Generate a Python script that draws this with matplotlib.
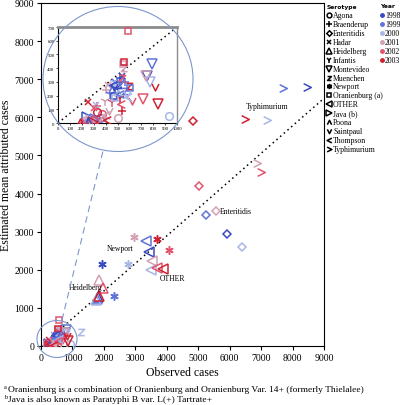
import matplotlib
matplotlib.use('Agg')
import matplotlib.pyplot as plt
from matplotlib.path import Path
from matplotlib.patches import Ellipse

plt.rcParams['font.family'] = ['Liberation Serif', 'DejaVu Serif']

# ---------------- data ----------------
years = ['1998', '1999', '2000', '2001', '2002', '2003']
year_colors = ['#3a4bbf', '#5f74d6', '#a9b6e6', '#d3a1b6', '#e0566f', '#cf2233']

serotypes = ['Agona', 'Braenderup', 'Enteritidis', 'Hadar', 'Heidelberg', 'Infantis',
             'Montevideo', 'Muenchen', 'Newport', 'Oranienburg (a)', 'OTHER', 'Java (b)',
             'Poona', 'Saintpaul', 'Thompson', 'Typhimurium']

# observed / estimated values, one per year 1998..2003
agona_obs = [300, 350, 936, 507, 367, 330]
agona_est = [15, 40, 49, 34, 66, 80]
braenderup_obs = [520, 560, 480, 400, 325, 535]
braenderup_est = [330, 300, 260, 240, 126, 90]
enteritidis_obs = [5924, 5255, 6401, 5573, 5032, 4841]
enteritidis_est = [2950, 3447, 2585, 3551, 4204, 5900]
hadar_obs = [540, 480, 320, 420, 300, 252]
hadar_est = [340, 300, 130, 280, 110, 150]
heidelberg_obs = [1815, 1790, 1750, 1847, 1974, 1830]
heidelberg_est = [1279, 1240, 1200, 1723, 1514, 1300]
infantis_obs = [500, 440, 470, 395, 451, 521]
infantis_est = [250, 210, 300, 163, 151, 182]
montevideo_obs = [751, 787, 773, 740, 712, 843]
montevideo_est = [345, 431, 301, 340, 175, 139]
muenchen_obs = [510, 560, 1274, 555, 540, 600]
muenchen_est = [280, 230, 366, 400, 330, 270]
newport_obs = [1943, 2325, 2771, 2962, 4076, 3694]
newport_est = [2141, 1305, 2141, 2872, 2507, 2820]
oranienburg_obs = [470, 605, 480, 545, 585, 555]
oranienburg_est = [200, 255, 180, 430, 673, 443]
other_obs = [3440, 3344, 3503, 3535, 3694, 3886]
other_est = [2454, 2768, 1984, 2220, 2036, 2010]
java_obs = [241, 311, 280, 260, 330, 290]
java_est = [42, 29, 20, 10, 15, 5]
poona_obs = [255, 450, 500, 380, 200, 185]
poona_est = [17, 250, 220, 40, 5, 5]
saintpaul_obs = [470, 520, 580, 430, 620, 815]
saintpaul_est = [260, 300, 210, 90, 160, 260]
thompson_obs = [460, 520, 588, 400, 530, 410]
thompson_est = [280, 210, 190, 60, 140, 20]
typhimurium_obs = [8471, 7707, 7197, 6879, 7006, 6497]
typhimurium_est = [6788, 6762, 5927, 4804, 4570, 5953]

obs_data = [agona_obs, braenderup_obs, enteritidis_obs, hadar_obs, heidelberg_obs,
            infantis_obs, montevideo_obs, muenchen_obs, newport_obs, oranienburg_obs,
            other_obs, java_obs, poona_obs, saintpaul_obs, thompson_obs, typhimurium_obs]
est_data = [agona_est, braenderup_est, enteritidis_est, hadar_est, heidelberg_est,
            infantis_est, montevideo_est, muenchen_est, newport_est, oranienburg_est,
            other_est, java_est, poona_est, saintpaul_est, thompson_est, typhimurium_est]

labels = [('Typhimurium', 7200, 6290, 'center'), ('Enteritidis', 5690, 3551, 'left'),
          ('Newport', 2516, 2560, 'center'), ('OTHER', 4172, 1775, 'center'),
          ('Heidelberg', 1400, 1561, 'center')]

main_ticks = list(range(0, 9001, 1000))
inset_xticks = list(range(0, 1001, 100))
inset_yticks = list(range(0, 701, 100))

# ---------------- markers ----------------
def open_path(v):
    return Path(v, [Path.MOVETO] + [Path.LINETO] * (len(v) - 1))

m_z = open_path([(-1, 1), (1, 1), (-1, -1), (1, -1)])
m_lam = open_path([(-1, -1), (0, 1), (1, -1)])
m_vee = open_path([(-1, 1), (0, -1), (1, 1)])
m_lt = open_path([(1, 1), (-1, 0), (1, -1)])
m_gt = open_path([(-1, 1), (1, 0), (-1, -1)])

markers = ['o', '+', 'D', 'x', '^', '1', 'v', m_z, (6, 2, 0), 's', '<', '>',
           m_lam, m_vee, m_lt, m_gt]
msizes = [5.5, 6, 4.5, 5, 6.5, 7, 6.5, 4.5, 6, 5, 6.5, 6.5, 5, 5, 5.5, 5.5]

# ---------------- figure ----------------
W, H = 400, 406
fig = plt.figure(figsize=(W / 100, H / 100), dpi=100)

ax = fig.add_axes([41 / W, 1 - 347 / H, (324 - 41) / W, (347 - 4) / H])
ax.set_xlim(0, 9000)
ax.set_ylim(0, 9000)
ax.set_xticks(main_ticks)
ax.set_yticks(main_ticks)
ax.tick_params(labelsize=7, length=3, width=0.8, pad=2)
for s in ax.spines.values():
    s.set_linewidth(0.8)
ax.set_xlabel('Observed cases', fontsize=8.5, labelpad=3)
ax.set_ylabel('Estimated mean attributed cases', fontsize=8.5, labelpad=2)
ax.plot([0, 9000], [0, 6500], ls=(0, (1, 2.2)), color='black', lw=1.1, zorder=1)

axi = fig.add_axes([58 / W, 1 - 124 / H, (177 - 58) / W, (124 - 28) / H])
axi.set_xlim(0, 1000)
axi.set_ylim(0, 700)
axi.set_xticks(inset_xticks)
axi.set_yticks(inset_yticks)
axi.tick_params(labelsize=3.5, length=1.5, width=0.5, pad=1)
axi.spines['top'].set_color('#8c8c8c')
axi.spines['top'].set_linewidth(2)
axi.spines['right'].set_color('#8c8c8c')
axi.spines['right'].set_linewidth(1)
axi.spines['left'].set_linewidth(0.8)
axi.spines['bottom'].set_linewidth(0.8)
axi.plot([0, 1000], [0, 700], ls=(0, (1, 2.2)), color='black', lw=1.1, zorder=1)

for k in range(len(serotypes)):
    for j in range(len(years)):
        x, y = obs_data[k][j], est_data[k][j]
        for a in (ax, axi):
            a.plot([x], [y], ls='none', marker=markers[k], ms=msizes[k],
                   mfc='none', mec=year_colors[j], mew=1.1, zorder=3)

for txt, x, y, ha in labels:
    ax.text(x, y, txt, fontsize=5.5, ha=ha, va='center')

# overlay in pixel coordinates
ov = fig.add_axes([0, 0, 1, 1], zorder=10)
ov.set_xlim(0, W)
ov.set_ylim(H, 0)
ov.axis('off')
circ_col = '#7d97cc'
ov.add_patch(Ellipse((118, 80), 150, 145, fill=False, ec=circ_col, lw=0.8))
ov.add_patch(Ellipse((57, 340), 40, 37, fill=False, ec=circ_col, lw=0.8))
ov.plot([62, 103], [321, 152], ls=(0, (6, 4)), color=circ_col, lw=0.8)

# legend
ov.text(327, 7, 'Serotype', fontsize=4.3, fontweight='bold', family='DejaVu Sans',
        ha='left', va='center')
ov.text(380, 7, 'Year', fontsize=4.3, fontweight='bold', family='DejaVu Sans',
        ha='left', va='center')
for k, name in enumerate(serotypes):
    yy = 16 + 8.93 * k
    ov.plot([328.5], [yy], ls='none', marker=markers[k], ms=msizes[k] * 0.62,
            mfc='none', mec='black', mew=1.1)
    ov.text(333, yy, name, fontsize=5.6, ha='left', va='center')
for j, yr in enumerate(years):
    yy = 16 + 8.93 * j
    ov.plot([382], [yy], ls='none', marker='o', ms=2.5, mfc=year_colors[j],
            mec=year_colors[j])
    ov.text(385, yy, yr, fontsize=5.6, ha='left', va='center')

# footnotes
ov.text(4, 387.5, 'a', fontsize=4.5, ha='left', va='center')
ov.text(8, 390, 'Oranienburg is a combination of Oranienburg and Oranienburg Var. 14+ (formerly Thielalee)',
        fontsize=6.8, ha='left', va='center')
ov.text(4, 397.5, 'b', fontsize=4.5, ha='left', va='center')
ov.text(8, 400, 'Java is also known as Paratyphi B var. L(+) Tartrate+',
        fontsize=6.8, ha='left', va='center')

fig.savefig('out.png', dpi=100)
